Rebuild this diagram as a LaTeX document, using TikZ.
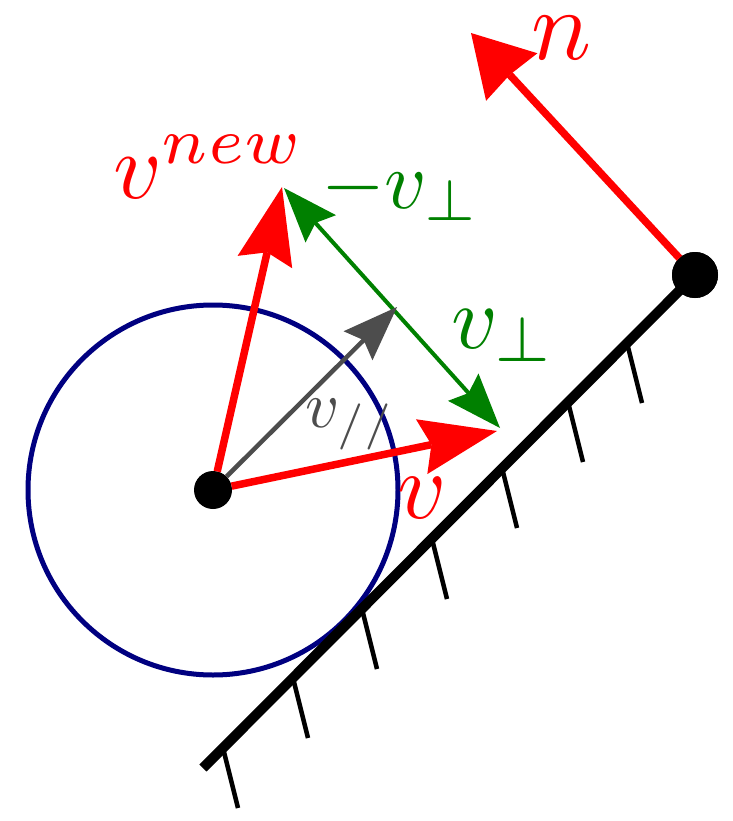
\documentclass[tikz,border=0pt]{standalone}
\usepackage{graphicx}
\usetikzlibrary{arrows.meta}
\definecolor{myred}{RGB}{255,0,0}
\definecolor{mygreen}{RGB}{0,128,0}
\definecolor{mynavy}{RGB}{0,0,128}
\definecolor{mygray}{RGB}{77,77,77}
\begin{document}
\begin{tikzpicture}[x=1pt,y=-1pt,
  redarrow/.style={draw=myred, line width=7.5pt, -{Stealth[length=77pt,width=56pt,inset=10pt,line width=0pt]}},
  narrow/.style={draw=myred, line width=7.5pt, -{Stealth[length=60pt,width=70pt,inset=3pt,line width=0pt]}},
  greenarrow/.style={draw=mygreen, line width=4pt, {Stealth[length=55pt,width=41pt,inset=8pt,line width=0pt]}-{Stealth[length=55pt,width=41pt,inset=8pt,line width=0pt]}},
  grayarrow/.style={draw=mygray, line width=4.5pt, -{Stealth[length=55pt,width=41pt,inset=8pt,line width=0pt]}},
  circline/.style={draw=mynavy, line width=5pt},
  wallline/.style={draw=black, line width=10pt},
  hatchline/.style={draw=black, line width=4.5pt},
  dotnode/.style={circle, fill=black, inner sep=0pt, outer sep=0pt},
  lbl/.style={inner sep=0pt, outer sep=0pt, anchor=base west},
]
\useasboundingbox (0,0) rectangle (732,821);
% positions
\coordinate (vt) at (497,431);
\coordinate (vnt) at (282,187);
\coordinate (gA) at (284,188);
\coordinate (gB) at (500,428);
\coordinate (vp) at (397,307);
\coordinate (nt) at (471,33);
\coordinate (wl) at (203,768);
% circle
\draw[circline] (213,490) circle[radius=185pt];
% wall
\node[dotnode, minimum size=46pt] (w) at (695,275) {};
\draw[wallline] (wl) -- (w.center);
\node[dotnode, minimum size=46pt] at (w.center) {};
\foreach \hx/\hy in {223/748, 293/678, 362/609, 432/539, 502/468, 568/402, 627/343}
  \draw[hatchline] (\hx,\hy) -- ++(15,60);
% normal
\draw[narrow] (w) -- (nt);
% particle
\node[dotnode, minimum size=38pt] (c) at (213,490) {};
\draw[greenarrow] (gA) -- (gB);
\draw[grayarrow] (c) -- (vp);
\draw[redarrow] (c) -- (vt);
\draw[redarrow] (c) -- (vnt);
% labels
\node[lbl, text=myred] (ln) at (531,60) {\scalebox{10}{$n$}};
\node[lbl, text=myred] (lvn) at (113,198) {\scalebox{9.4}{$v^{new}$}};
\node[lbl, text=mygreen] (lmv) at (321,208) {\scalebox{8.2}{$-v_\perp$}};
\node[lbl, text=mygreen] (lvp) at (451,348) {\scalebox{9}{$v_\perp$}};
\node[lbl, text=myred] (lv) at (397,518) {\scalebox{9.5}{$v$}};
\node[lbl, text=mygray] (lvpar) at (305,427) {\scalebox{6.6}{$v_{//}$}};
\end{tikzpicture}
\end{document}
